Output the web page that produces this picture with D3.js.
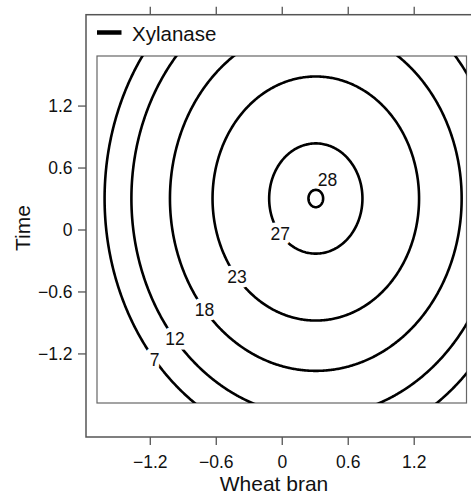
<!DOCTYPE html>
<html>
<head>
<meta charset="utf-8">
<script src="https://cdn.jsdelivr.net/npm/d3@7"></script>
<style>
  body { margin: 0; background: #fff; }
  svg { display: block; font-family: "Liberation Sans", Arial, Helvetica, sans-serif; }
</style>
</head>
<body>
<svg id="chart" width="471" height="495"></svg>
<script>
// Contour levels shown on the plot
const levels = [7, 12, 18, 23, 27, 28];
// Fitted quadratic response: b0 + b1*x + b2*y + b11*x^2 + b22*y^2 + b12*x*y
const coefNames = ["b0", "b1", "b2", "b11", "b22", "b12"];
const coefs = [27.155, 3.53, 2.16, -5.7, -3.6, 0];
const xTicks = [-1.2, -0.6, 0, 0.6, 1.2];
const yTicks = [-1.2, -0.6, 0, 0.6, 1.2];
const xLabel = "Wheat bran";
const yLabel = "Time";
const seriesName = "Xylanase";
const codedRange = [-1.68, 1.68];

const b = {};
coefNames.forEach((n, i) => b[n] = coefs[i]);
function response(x, y) {
    return b.b0 + b.b1 * x + b.b2 * y + b.b11 * x * x + b.b22 * y * y + b.b12 * x * y;
}

const svg = d3.select("#chart");

// plot area (inner box) and outer frame
const inner = { left: 97, right: 466.5, top: 56, bottom: 403 };
const frame = { left: 86, right: 480, top: 14.7, bottom: 437 };

const xScale = d3.scaleLinear().domain(codedRange).range([inner.left, inner.right]);
const yScale = d3.scaleLinear().domain(codedRange).range([inner.bottom, inner.top]);

// outer frame
svg.append("rect")
    .attr("x", frame.left).attr("y", frame.top)
    .attr("width", frame.right - frame.left).attr("height", frame.bottom - frame.top)
    .attr("fill", "none").attr("stroke", "#555").attr("stroke-width", 1.5);

// axes on the outer frame
const xAxisB = svg.append("g")
    .attr("transform", `translate(0,${frame.bottom})`)
    .call(d3.axisBottom(xScale).tickValues(xTicks).tickSize(8).tickPadding(11)
        .tickFormat(d3.format("")));
const xAxisT = svg.append("g")
    .attr("transform", `translate(0,${frame.top})`)
    .call(d3.axisTop(xScale).tickValues(xTicks).tickSize(8).tickFormat(""));
const yAxisL = svg.append("g")
    .attr("transform", `translate(${frame.left},0)`)
    .call(d3.axisLeft(yScale).tickValues(yTicks).tickSize(8).tickPadding(5.5)
        .tickFormat(d3.format("")));

[xAxisB, xAxisT, yAxisL].forEach(g => {
    g.select(".domain").remove();
    g.selectAll(".tick line").attr("stroke", "#555").attr("stroke-width", 1.3);
    g.selectAll(".tick text").attr("fill", "#111").style("font-size", "17.5px");
});

// inner plot box
svg.append("rect")
    .attr("x", inner.left).attr("y", inner.top)
    .attr("width", inner.right - inner.left).attr("height", inner.bottom - inner.top)
    .attr("fill", "none").attr("stroke", "#666").attr("stroke-width", 1.2);

svg.append("clipPath").attr("id", "plotClip")
    .append("rect")
    .attr("x", inner.left).attr("y", inner.top)
    .attr("width", inner.right - inner.left).attr("height", inner.bottom - inner.top);

// evaluate the surface on a grid that runs past the plot box
const gMin = -2.2, gStep = 0.01;
const n = Math.round((2.2 - gMin) / gStep) + 1;
const values = new Array(n * n);
for (let j = 0; j < n; j++) {
    for (let i = 0; i < n; i++) {
        values[j * n + i] = response(gMin + i * gStep, gMin + j * gStep);
    }
}
const contours = d3.contours().size([n, n]).thresholds(levels)(values);

const toPixels = d3.geoTransform({
    point: function(cx, cy) {
        this.stream.point(xScale(gMin + (cx - 0.5) * gStep), yScale(gMin + (cy - 0.5) * gStep));
    }
});
const path = d3.geoPath(toPixels);

svg.append("g").attr("clip-path", "url(#plotClip)")
    .selectAll("path")
    .data(contours)
    .join("path")
    .attr("d", path)
    .attr("fill", "none")
    .attr("stroke", "#000")
    .attr("stroke-width", 2.6)
    .attr("stroke-linejoin", "round");

// contour labels: placed where each line meets a ray from the optimum
const x0 = -b.b1 / (2 * b.b11), y0 = -b.b2 / (2 * b.b22);
const cx = xScale(x0), cy = yScale(y0);
function findOnRay(level, ux, uy) {
    let lo = 0, hi = 400;
    for (let k = 0; k < 60; k++) {
        const mid = (lo + hi) / 2;
        const v = response(xScale.invert(cx + ux * mid), yScale.invert(cy + uy * mid));
        if (v > level) lo = mid; else hi = mid;
    }
    return lo;
}
const maxLevel = d3.max(levels);
const labelData = levels.map(lv => {
    if (lv === maxLevel) {
        const ux = 0.52, uy = -0.85;
        const t = findOnRay(lv, ux, uy) + 14;
        return { level: lv, x: cx + ux * t, y: cy + uy * t, halo: 0 };
    }
    const u = Math.SQRT1_2;
    const t = findOnRay(lv, -u, u);
    return { level: lv, x: cx - u * t, y: cy + u * t, halo: 9 };
});

svg.append("g")
    .selectAll("text")
    .data(labelData)
    .join("text")
    .attr("x", d => d.x)
    .attr("y", d => d.y)
    .attr("text-anchor", "middle")
    .attr("dominant-baseline", "central")
    .style("font-size", "17.5px")
    .attr("fill", "#111")
    .attr("stroke", "#fff")
    .attr("stroke-width", d => d.halo)
    .attr("stroke-linejoin", "round")
    .attr("paint-order", "stroke")
    .text(d => d.level);

// legend
const legend = svg.append("g");
legend.append("line")
    .attr("x1", 97).attr("x2", 121.5)
    .attr("y1", 32.5).attr("y2", 32.5)
    .attr("stroke", "#000").attr("stroke-width", 4.5);
legend.append("text")
    .attr("x", 132).attr("y", 41)
    .style("font-size", "20.5px")
    .attr("fill", "#111")
    .text(seriesName);

// axis titles
svg.append("text")
    .attr("x", 274).attr("y", 491)
    .attr("text-anchor", "middle")
    .style("font-size", "21px")
    .attr("fill", "#111")
    .text(xLabel);

svg.append("text")
    .attr("transform", "translate(30,228) rotate(-90)")
    .attr("text-anchor", "middle")
    .style("font-size", "21px")
    .attr("fill", "#111")
    .text(yLabel);
</script>
</body>
</html>
